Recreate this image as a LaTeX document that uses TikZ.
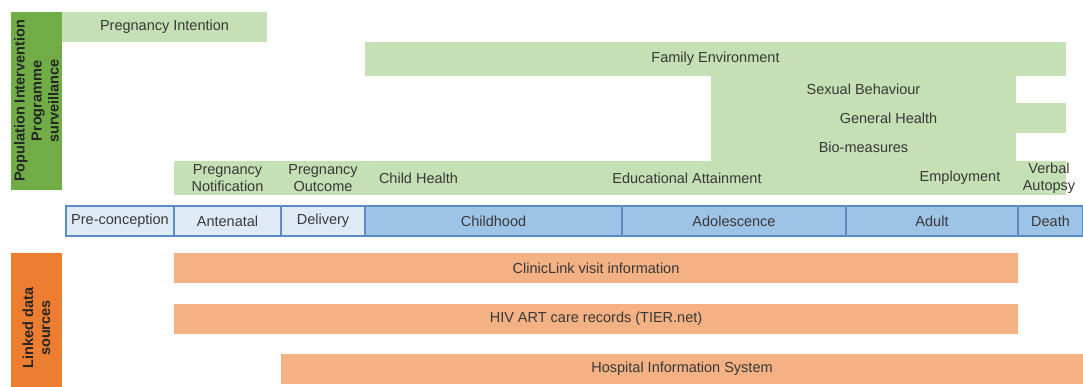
\documentclass[tikz,border=0pt]{standalone}
\usepackage{fontspec}
\setmainfont{Liberation Sans}
\usetikzlibrary{positioning}

\definecolor{survgreen}{HTML}{70AD47}
\definecolor{survlight}{HTML}{C5E0B4}
\definecolor{linkorange}{HTML}{ED7D31}
\definecolor{linklight}{HTML}{F4B183}
\definecolor{stagepale}{HTML}{DEEBF7}
\definecolor{stageblue}{HTML}{9DC3E6}
\definecolor{stageline}{HTML}{5B8BC0}
\definecolor{txtgray}{HTML}{383838}

\begin{document}
\begin{tikzpicture}[x=1pt,y=-1pt,
   every node/.style={inner sep=0pt,outer sep=0pt,text=txtgray,
                      font=\fontsize{14.5}{17}\selectfont},
   cell/.style={anchor=north west,minimum width=#1},
   band/.style={fill=survlight},
   srcbar/.style={fill=linklight,minimum height=30pt},
   stagecell/.style={draw=stageline,line width=1.2pt,minimum height=30pt},
   sidebar/.style={rotate=90,align=center,minimum height=51pt,text=black!85,
                   font=\fontsize{14.5}{17}\selectfont\bfseries}]

\clip (0,0) rectangle (1083,387);

% surveillance side
\node[sidebar,fill=survgreen,minimum width=178pt] (surv) at (36.5,101)
    {Population Intervention\\Programme\\surveillance};
\node[band,cell=205pt,minimum height=30pt] (pintent) at (62,12) {Pregnancy Intention};
\node[band,cell=701pt,minimum height=34.5pt] (famenv) at (365,42) {Family Environment};
\node[band,cell=305pt,minimum height=27.5pt] (sexbeh) at (711,76) {Sexual Behaviour};
\node[band,cell=355pt,minimum height=30.5pt] (genhealth) at (711,103) {General Health};
\node[band,cell=305pt,minimum height=28.5pt] (biomeas) at (711,133) {Bio-measures};
\node[band,cell=892pt,minimum height=34pt] (lifecourse) at (174,161) {};

\node[align=center] (pnotif) at (227.5,178) {Pregnancy\\Notification};
\node[align=center] (pout) at (323,178) {Pregnancy\\Outcome};
\node[anchor=west] (chealth) at (379,178) {Child Health};
\node (eduatt) at (687,178) {Educational Attainment};
\node (employ) at (960,178) {Employment};
\node[align=center] (vautopsy) at (1049,178) {Verbal\\Autopsy};

% life stages
\node[stagecell,fill=stagepale,anchor=west,minimum width=108pt] (precon) at (66,221) {Pre-conception};
\node[stagecell,fill=stagepale,right=0pt of precon,minimum width=107pt] (antenatal) {Antenatal};
\node[stagecell,fill=stagepale,right=0pt of antenatal,minimum width=84pt] (delivery) {Delivery};
\node[stagecell,fill=stageblue,right=0pt of delivery,minimum width=257pt] (childhood) {Childhood};
\node[stagecell,fill=stageblue,right=0pt of childhood,minimum width=224pt] (adolesc) {Adolescence};
\node[stagecell,fill=stageblue,right=0pt of adolesc,minimum width=172pt] (adult) {Adult};
\node[stagecell,fill=stageblue,right=0pt of adult,minimum width=65pt] (death) {Death};

% linked sources
\node[sidebar,fill=linkorange,minimum width=150pt] (linked) at (36.5,328)
    {Linked data\\sources};
\node[srcbar,cell=844pt] (clinic) at (174,253) {ClinicLink visit information};
\node[srcbar,cell=844pt] (hivart) at (174,304) {HIV ART care records (TIER.net)};
\node[srcbar,cell=802pt] (hosp) at (281,354) {Hospital Information System};

\end{tikzpicture}
\end{document}
